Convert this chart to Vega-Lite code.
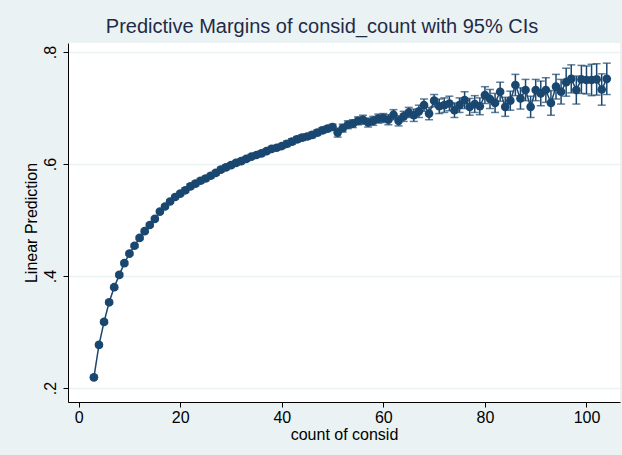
{
  "$schema": "https://vega.github.io/schema/vega-lite/v6.json",
  "width": 552,
  "height": 359,
  "autosize": {"type": "none"},
  "padding": {"left": 68, "top": 43, "right": 2, "bottom": 53},
  "background": "#EAF2F3",
  "config": {
    "font": "Liberation Sans",
    "view": {"fill": "#FFFFFF", "stroke": null}
  },
  "title": {
    "text": "Predictive Margins of consid_count with 95% CIs",
    "fontSize": 20,
    "fontWeight": "normal",
    "color": "#1E2B48",
    "anchor": "middle",
    "dx": -22,
    "offset": 6
  },
  "data": {
    "values": [
      {"x":3,"y":0.219,"lo":0.216,"hi":0.222},
      {"x":4,"y":0.277,"lo":0.274,"hi":0.280},
      {"x":5,"y":0.318,"lo":0.315,"hi":0.321},
      {"x":6,"y":0.353,"lo":0.350,"hi":0.356},
      {"x":7,"y":0.380,"lo":0.377,"hi":0.383},
      {"x":8,"y":0.402,"lo":0.399,"hi":0.405},
      {"x":9,"y":0.423,"lo":0.420,"hi":0.426},
      {"x":10,"y":0.440,"lo":0.437,"hi":0.443},
      {"x":11,"y":0.454,"lo":0.451,"hi":0.457},
      {"x":12,"y":0.468,"lo":0.465,"hi":0.471},
      {"x":13,"y":0.480,"lo":0.477,"hi":0.483},
      {"x":14,"y":0.491,"lo":0.488,"hi":0.494},
      {"x":15,"y":0.502,"lo":0.499,"hi":0.505},
      {"x":16,"y":0.515,"lo":0.512,"hi":0.518},
      {"x":17,"y":0.524,"lo":0.521,"hi":0.527},
      {"x":18,"y":0.533,"lo":0.530,"hi":0.536},
      {"x":19,"y":0.541,"lo":0.538,"hi":0.544},
      {"x":20,"y":0.547,"lo":0.544,"hi":0.550},
      {"x":21,"y":0.553,"lo":0.549,"hi":0.557},
      {"x":22,"y":0.560,"lo":0.556,"hi":0.564},
      {"x":23,"y":0.565,"lo":0.561,"hi":0.569},
      {"x":24,"y":0.570,"lo":0.566,"hi":0.574},
      {"x":25,"y":0.574,"lo":0.570,"hi":0.578},
      {"x":26,"y":0.579,"lo":0.575,"hi":0.583},
      {"x":27,"y":0.584,"lo":0.580,"hi":0.588},
      {"x":28,"y":0.590,"lo":0.586,"hi":0.594},
      {"x":29,"y":0.594,"lo":0.590,"hi":0.598},
      {"x":30,"y":0.598,"lo":0.594,"hi":0.602},
      {"x":31,"y":0.602,"lo":0.598,"hi":0.606},
      {"x":32,"y":0.605,"lo":0.601,"hi":0.609},
      {"x":33,"y":0.609,"lo":0.605,"hi":0.613},
      {"x":34,"y":0.613,"lo":0.609,"hi":0.617},
      {"x":35,"y":0.616,"lo":0.612,"hi":0.620},
      {"x":36,"y":0.619,"lo":0.615,"hi":0.623},
      {"x":37,"y":0.623,"lo":0.619,"hi":0.627},
      {"x":38,"y":0.627,"lo":0.623,"hi":0.631},
      {"x":39,"y":0.629,"lo":0.625,"hi":0.633},
      {"x":40,"y":0.632,"lo":0.628,"hi":0.636},
      {"x":41,"y":0.636,"lo":0.631,"hi":0.641},
      {"x":42,"y":0.640,"lo":0.635,"hi":0.645},
      {"x":43,"y":0.644,"lo":0.639,"hi":0.649},
      {"x":44,"y":0.647,"lo":0.642,"hi":0.652},
      {"x":45,"y":0.649,"lo":0.644,"hi":0.654},
      {"x":46,"y":0.652,"lo":0.647,"hi":0.657},
      {"x":47,"y":0.656,"lo":0.651,"hi":0.661},
      {"x":48,"y":0.660,"lo":0.655,"hi":0.665},
      {"x":49,"y":0.663,"lo":0.658,"hi":0.668},
      {"x":50,"y":0.666,"lo":0.661,"hi":0.671},
      {"x":51,"y":0.656,"lo":0.648,"hi":0.664},
      {"x":52,"y":0.664,"lo":0.657,"hi":0.671},
      {"x":53,"y":0.670,"lo":0.663,"hi":0.677},
      {"x":54,"y":0.672,"lo":0.665,"hi":0.679},
      {"x":55,"y":0.677,"lo":0.670,"hi":0.684},
      {"x":56,"y":0.679,"lo":0.671,"hi":0.687},
      {"x":57,"y":0.674,"lo":0.666,"hi":0.682},
      {"x":58,"y":0.677,"lo":0.669,"hi":0.685},
      {"x":59,"y":0.681,"lo":0.673,"hi":0.689},
      {"x":60,"y":0.682,"lo":0.674,"hi":0.690},
      {"x":61,"y":0.679,"lo":0.670,"hi":0.688},
      {"x":62,"y":0.688,"lo":0.679,"hi":0.697},
      {"x":63,"y":0.677,"lo":0.668,"hi":0.686},
      {"x":64,"y":0.685,"lo":0.676,"hi":0.694},
      {"x":65,"y":0.692,"lo":0.683,"hi":0.701},
      {"x":66,"y":0.687,"lo":0.676,"hi":0.698},
      {"x":67,"y":0.694,"lo":0.683,"hi":0.705},
      {"x":68,"y":0.705,"lo":0.694,"hi":0.716},
      {"x":69,"y":0.690,"lo":0.679,"hi":0.701},
      {"x":70,"y":0.713,"lo":0.702,"hi":0.724},
      {"x":71,"y":0.703,"lo":0.690,"hi":0.716},
      {"x":72,"y":0.705,"lo":0.692,"hi":0.718},
      {"x":73,"y":0.708,"lo":0.695,"hi":0.721},
      {"x":74,"y":0.696,"lo":0.683,"hi":0.709},
      {"x":75,"y":0.705,"lo":0.692,"hi":0.718},
      {"x":76,"y":0.714,"lo":0.699,"hi":0.729},
      {"x":77,"y":0.702,"lo":0.687,"hi":0.717},
      {"x":78,"y":0.707,"lo":0.692,"hi":0.722},
      {"x":79,"y":0.703,"lo":0.688,"hi":0.718},
      {"x":80,"y":0.723,"lo":0.708,"hi":0.738},
      {"x":81,"y":0.716,"lo":0.699,"hi":0.733},
      {"x":82,"y":0.709,"lo":0.692,"hi":0.726},
      {"x":83,"y":0.729,"lo":0.712,"hi":0.746},
      {"x":84,"y":0.702,"lo":0.685,"hi":0.719},
      {"x":85,"y":0.713,"lo":0.696,"hi":0.730},
      {"x":86,"y":0.741,"lo":0.722,"hi":0.760},
      {"x":87,"y":0.717,"lo":0.698,"hi":0.736},
      {"x":88,"y":0.732,"lo":0.713,"hi":0.751},
      {"x":89,"y":0.702,"lo":0.683,"hi":0.721},
      {"x":90,"y":0.732,"lo":0.713,"hi":0.751},
      {"x":91,"y":0.726,"lo":0.704,"hi":0.748},
      {"x":92,"y":0.732,"lo":0.710,"hi":0.754},
      {"x":93,"y":0.709,"lo":0.687,"hi":0.731},
      {"x":94,"y":0.738,"lo":0.716,"hi":0.760},
      {"x":95,"y":0.729,"lo":0.707,"hi":0.751},
      {"x":96,"y":0.746,"lo":0.721,"hi":0.771},
      {"x":97,"y":0.752,"lo":0.727,"hi":0.777},
      {"x":98,"y":0.732,"lo":0.707,"hi":0.757},
      {"x":99,"y":0.751,"lo":0.726,"hi":0.776},
      {"x":100,"y":0.750,"lo":0.725,"hi":0.775},
      {"x":101,"y":0.750,"lo":0.722,"hi":0.778},
      {"x":102,"y":0.751,"lo":0.723,"hi":0.779},
      {"x":103,"y":0.733,"lo":0.705,"hi":0.761},
      {"x":104,"y":0.752,"lo":0.724,"hi":0.780}
    ]
  },
  "encoding": {
    "x": {
      "field": "x",
      "type": "quantitative",
      "scale": {"domain": [-2.1, 106.6], "nice": false, "zero": false},
      "axis": {
        "title": "count of consid",
        "values": [0, 20, 40, 60, 80, 100],
        "grid": false,
        "domainColor": "#000000",
        "domainWidth": 1,
        "tickColor": "#000000",
        "tickSize": 5,
        "labelFontSize": 16,
        "labelColor": "#000000",
        "labelPadding": 2,
        "titleFontSize": 16,
        "titleFontWeight": "normal",
        "titleColor": "#000000",
        "titlePadding": 1
      }
    },
    "y": {
      "field": "y",
      "type": "quantitative",
      "scale": {"domain": [0.175, 0.816], "nice": false, "zero": false},
      "axis": {
        "title": "Linear Prediction",
        "values": [0.2, 0.4, 0.6, 0.8],
        "labelExpr": "replace(format(datum.value, '.1f'), '0.', '.')",
        "labelAngle": -90,
        "labelAlign": "center",
        "labelBaseline": "bottom",
        "labelPadding": 5,
        "grid": true,
        "gridColor": "#EAF2F3",
        "gridWidth": 1.5,
        "domainColor": "#000000",
        "domainWidth": 1,
        "tickColor": "#000000",
        "tickSize": 5,
        "labelFontSize": 16,
        "labelColor": "#000000",
        "titleFontSize": 16,
        "titleFontWeight": "normal",
        "titleColor": "#000000",
        "titlePadding": 3
      }
    }
  },
  "layer": [
    {
      "mark": {"type": "errorbar", "color": "#1A476F", "thickness": 1.5, "ticks": {"size": 8, "thickness": 1.5, "color": "#1A476F"}},
      "encoding": {
        "y": {"field": "lo", "type": "quantitative"},
        "y2": {"field": "hi"}
      }
    },
    {
      "mark": {"type": "line", "color": "#1A476F", "strokeWidth": 1.5}
    },
    {
      "mark": {"type": "point", "filled": true, "shape": "circle", "size": 75, "color": "#1A476F", "opacity": 1}
    }
  ]
}
